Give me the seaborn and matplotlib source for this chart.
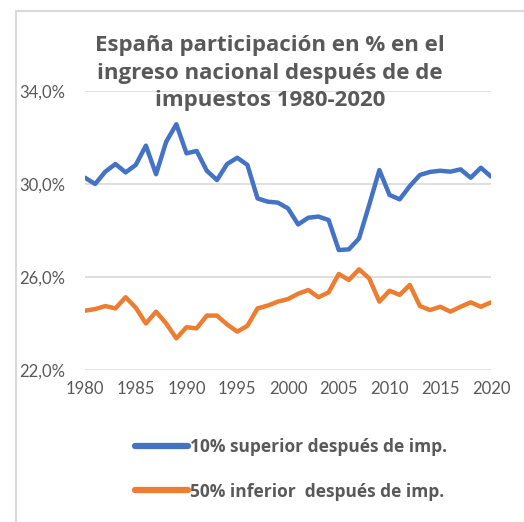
import pandas as pd
import matplotlib
matplotlib.use("Agg")
from matplotlib import pyplot as plt
from matplotlib.ticker import FuncFormatter
from matplotlib.lines import Line2D
import seaborn as sns

years = list(range(1980, 2021))
top10 = [30.27, 30.00, 30.53, 30.86, 30.50, 30.82, 31.65, 30.42, 31.82, 32.57,
         31.32, 31.42, 30.57, 30.17, 30.86, 31.13, 30.82, 29.38, 29.24, 29.20,
         28.95, 28.26, 28.55, 28.60, 28.45, 27.16, 27.19, 27.66, 29.10, 30.60,
         29.53, 29.34, 29.91, 30.39, 30.52, 30.57, 30.53, 30.63, 30.27, 30.70,
         30.32]
bottom50 = [24.55, 24.62, 24.75, 24.65, 25.13, 24.68, 24.00, 24.51, 24.00, 23.36,
            23.84, 23.79, 24.34, 24.34, 23.96, 23.65, 23.90, 24.65, 24.77, 24.94,
            25.05, 25.28, 25.44, 25.13, 25.34, 26.13, 25.87, 26.33, 25.94, 24.94,
            25.41, 25.23, 25.66, 24.75, 24.58, 24.72, 24.51, 24.72, 24.91, 24.72,
            24.91]
labels = ["10% superior después de imp.", "50% inferior  después de imp."]
colors = ["#4472C4", "#ED7D31"]
title = "España participación en % en el\ningreso nacional después de de\nimpuestos 1980-2020"

grey = "#595959"

if __name__ == '__main__':
    sns.set_style("white")
    plt.rcParams['font.family'] = ['Lato', 'DejaVu Sans']

    fig = plt.figure(figsize=(5.24, 5.22), dpi=100)
    ax = fig.add_axes([85 / 524, 1 - 370 / 522, 406 / 524, 279 / 522])

    sns.lineplot(x=years, y=top10, ax=ax, color=colors[0], lw=3.2, label=labels[0])
    sns.lineplot(x=years, y=bottom50, ax=ax, color=colors[1], lw=3.2, label=labels[1])

    ax.set_xlim(1980, 2020)
    ax.set_ylim(22, 34)
    ax.set_xticks(range(1980, 2021, 5))
    ax.set_yticks([22, 26, 30, 34])
    ax.yaxis.set_major_formatter(FuncFormatter(lambda v, p: f"{v:.1f}%".replace(".", ",")))
    ax.grid(axis='y', color="#D9D9D9", lw=1.2)
    ax.set_axisbelow(True)
    for s in ax.spines.values():
        s.set_visible(False)
    ax.tick_params(axis='both', length=0, labelsize=12, colors=grey)
    ax.tick_params(axis='y', pad=14)
    ax.tick_params(axis='x', pad=8)

    fig.text(0.515, 1 - 73 / 522, title, ha='center', va='center', fontsize=16,
             fontweight='bold', color=grey, linespacing=1.38,
             family=['Open Sans', 'DejaVu Sans'])

    leg = ax.legend(loc='upper left', bbox_to_anchor=(119 / 524, 1 - 422 / 522),
                    bbox_transform=fig.transFigure, frameon=False,
                    prop={'family': ['Open Sans', 'DejaVu Sans'], 'weight': 'bold', 'size': 12.5},
                    handlelength=3.1, handletextpad=0.1, labelspacing=1.55)
    for t in leg.get_texts():
        t.set_color(grey)
    for h in leg.get_lines():
        h.set_linewidth(4.5)
        h.set_solid_capstyle('round')

    # chart border (only left and top edges fall inside the picture)
    fig.add_artist(Line2D([16 / 524, 16 / 524], [0, 1 - 11 / 522],
                          transform=fig.transFigure, color="#D9D9D9", lw=1.5))
    fig.add_artist(Line2D([16 / 524, 1], [1 - 11 / 522, 1 - 11 / 522],
                          transform=fig.transFigure, color="#D9D9D9", lw=1.5))

    fig.savefig("out.png", dpi=100)
